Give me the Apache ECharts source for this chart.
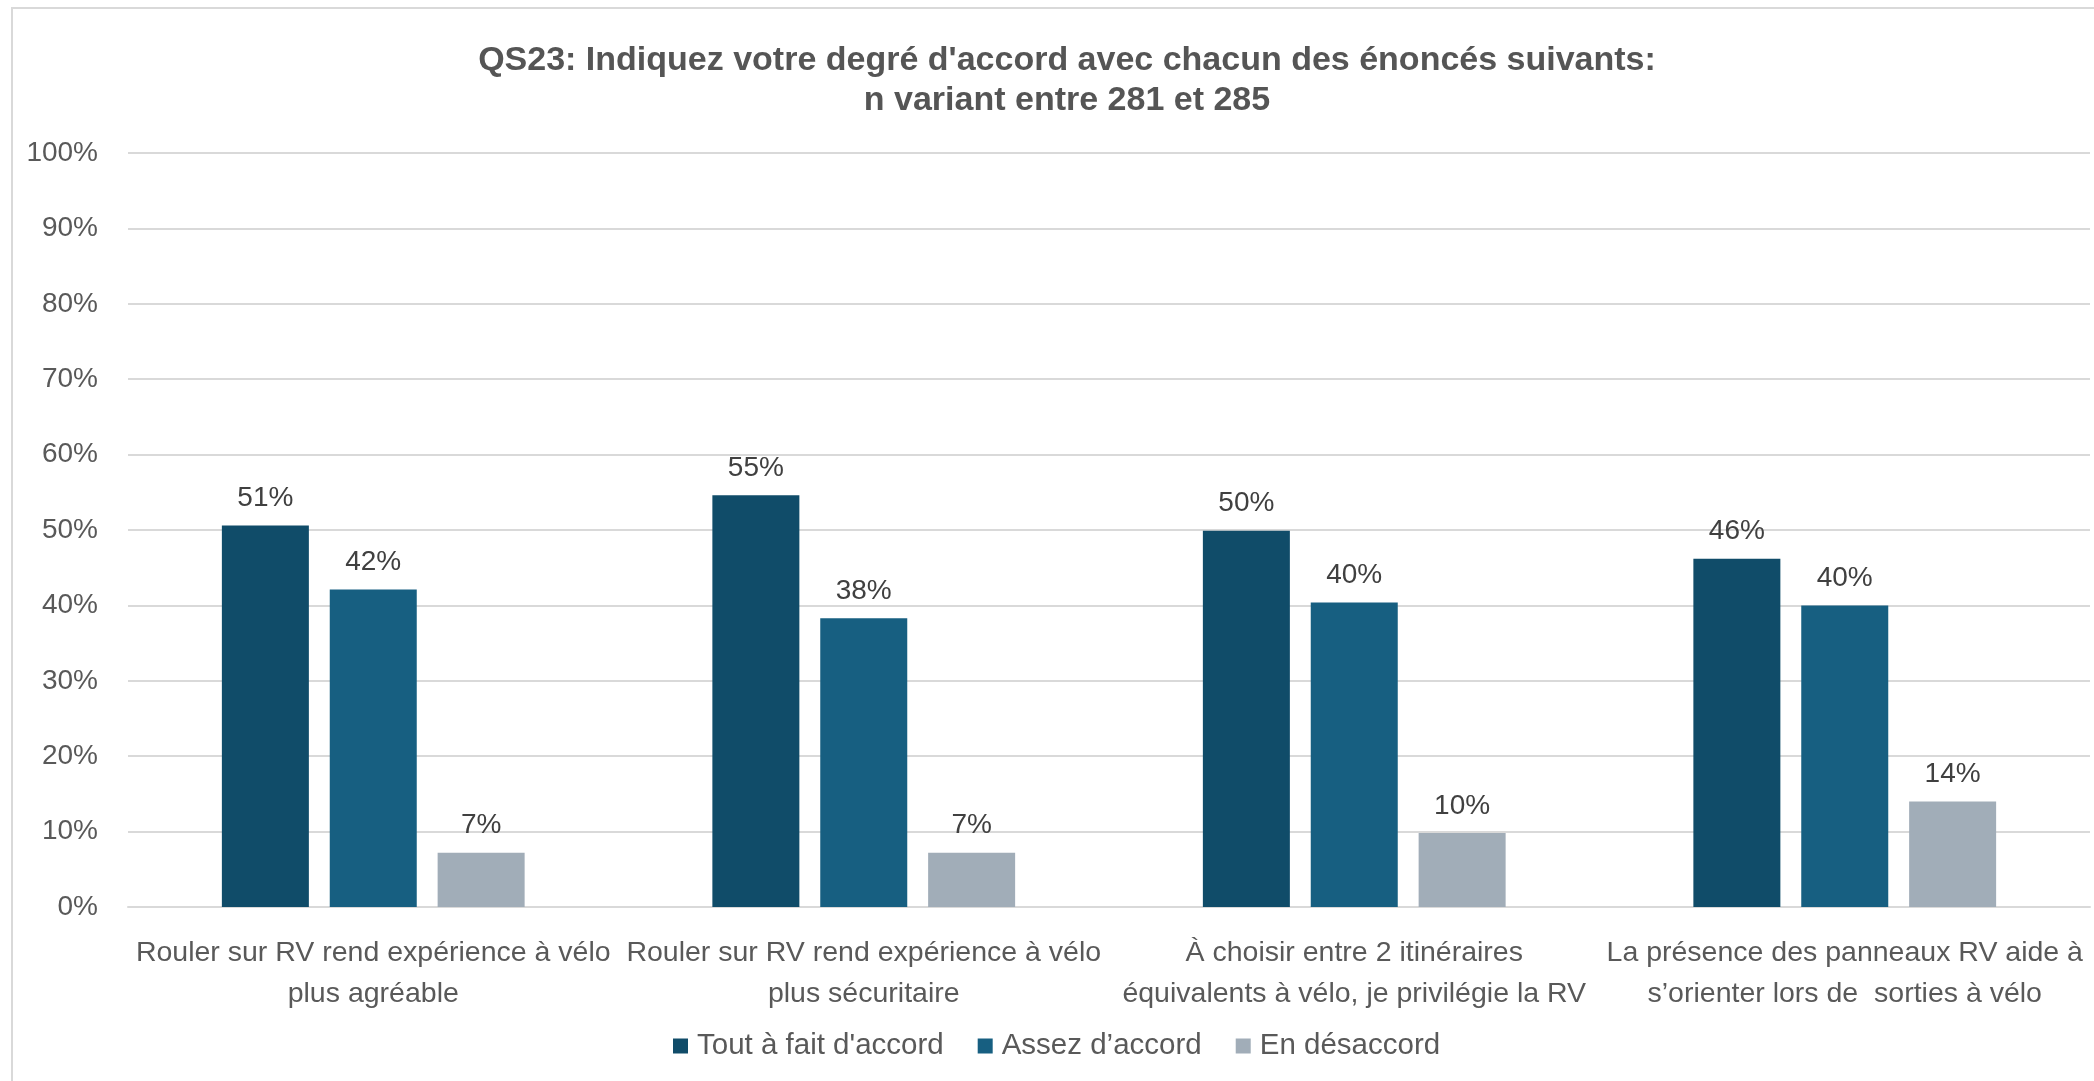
<!DOCTYPE html>
<html>
<head>
<meta charset="utf-8">
<script src="https://cdn.jsdelivr.net/npm/echarts@6/dist/echarts.min.js"></script>
<style>
  html, body { margin: 0; padding: 0; background: #fff; }
  #main { width: 2094px; height: 1081px; }
</style>
</head>
<body>
<div id="main"></div>
<script>
// enoncés (axe des x)
var categories = [
    'Rouler sur RV rend expérience à vélo\nplus agréable',
    'Rouler sur RV rend expérience à vélo\nplus sécuritaire',
    'À choisir entre 2 itinéraires\néquivalents à vélo, je privilégie la RV',
    'La présence des panneaux RV aide à\ns\u2019orienter lors de  sorties à vélo'
];
var seriesNames = ["Tout à fait d'accord", 'Assez d\u2019accord', 'En désaccord'];
// valeurs en %
var toutAFait = [50.6, 54.6, 49.9, 46.2];
var assez = [42.1, 38.3, 40.4, 40.0];
var desaccord = [7.2, 7.2, 9.8, 14.0];
var colors = ['#104C69', '#175F81', '#A1ADB8'];

var font = 'Liberation Sans, Arial, sans-serif';

var myChart = echarts.init(document.getElementById('main'));

function barSerie(name, data, color) {
    return {
        name: name,
        type: 'bar',
        data: data,
        barWidth: 87,
        barGap: '24%',
        itemStyle: { color: color },
        label: {
            show: true,
            position: 'top',
            distance: 13,
            color: '#404040',
            fontFamily: font,
            fontSize: 28,
            formatter: function (p) { return Math.round(p.value) + '%'; }
        }
    };
}

var option = {
    backgroundColor: '#fff',
    animation: false,
    title: {
        text: "QS23: Indiquez votre degré d'accord avec chacun des énoncés suivants:\nn variant entre 281 et 285",
        left: 1062,
        top: 36,
        textAlign: 'center',
        textStyle: {
            fontFamily: font,
            fontWeight: 'bold',
            fontSize: 34,
            lineHeight: 40,
            color: '#555555'
        }
    },
    graphic: [{
        type: 'rect',
        shape: { x: 12, y: 8, width: 2300, height: 1300 },
        style: { fill: 'none', stroke: '#D9D9D9', lineWidth: 2 },
        silent: true
    }],
    legend: {
        data: seriesNames,
        left: 668,
        top: 1026,
        icon: 'rect',
        itemWidth: 15,
        itemHeight: 15,
        itemGap: 34,
        textStyle: { fontFamily: font, fontSize: 29.5, color: '#595959', padding: [0, 0, 0, 4] }
    },
    grid: { left: 128, right: 4, top: 153, bottom: 174 },
    xAxis: {
        type: 'category',
        data: categories,
        axisLine: { lineStyle: { color: '#D9D9D9', width: 2 } },
        axisTick: { show: false },
        axisLabel: {
            interval: 0,
            margin: 26,
            fontFamily: font,
            fontSize: 28.5,
            lineHeight: 41,
            color: '#595959'
        }
    },
    yAxis: {
        type: 'value',
        min: 0,
        max: 100,
        interval: 10,
        axisLine: { show: false },
        axisTick: { show: false },
        splitLine: { lineStyle: { color: '#D9D9D9', width: 2 } },
        axisLabel: {
            formatter: '{value}%',
            margin: 30,
            fontFamily: font,
            fontSize: 28,
            color: '#595959'
        }
    },
    series: [
        barSerie(seriesNames[0], toutAFait, colors[0]),
        barSerie(seriesNames[1], assez, colors[1]),
        barSerie(seriesNames[2], desaccord, colors[2])
    ]
};
myChart.setOption(option);
</script>
</body>
</html>
